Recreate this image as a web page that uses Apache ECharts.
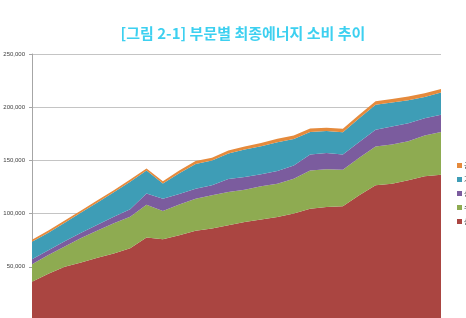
<!DOCTYPE html>
<html>
<head>
<meta charset="utf-8">
<script src="https://cdn.jsdelivr.net/npm/echarts@6/dist/echarts.min.js"></script>
<style>
  html, body { margin: 0; padding: 0; background: #fff; }
  #chart { width: 466px; height: 318px; }
</style>
</head>
<body>
<div id="chart"></div>
<script>
// 1990 ~ 2015, 천toe
const years = ['1990', '1991', '1992', '1993', '1994', '1995', '1996', '1997', '1998', '1999',
  '2000', '2001', '2002', '2003', '2004', '2005', '2006', '2007', '2008', '2009',
  '2010', '2011', '2012', '2013', '2014', '2015'];

const industry = [36000, 43500, 50000, 54000, 58500, 62500, 67500, 77500, 76000, 79700,
  83800, 85900, 89000, 92200, 94400, 96900, 100000, 104500, 106300, 106900,
  117200, 126600, 128100, 131300, 135000, 136600];
const transport = [16500, 17500, 19000, 23000, 25500, 28500, 29500, 30900, 26500, 28800,
  30200, 31300, 31300, 30300, 31200, 31200, 32800, 36100, 35300, 34300,
  35300, 36500, 36900, 36800, 38400, 40000];
const commercial = [4500, 4500, 5000, 5000, 5500, 6000, 7000, 10600, 11500, 10000,
  9400, 9400, 12200, 11900, 11300, 11900, 12500, 14900, 15300, 14400,
  14700, 15700, 16900, 16900, 16300, 16200];
const residential = [16500, 16500, 17500, 19000, 21000, 23000, 26000, 21500, 14300, 19500,
  23300, 23200, 24000, 25800, 26400, 27000, 24900, 21300, 20700, 20900,
  22300, 23400, 22500, 21600, 19900, 20900];
const publicEtc = [2000, 2000, 2000, 2000, 2000, 2000, 2000, 2000, 2200, 2600,
  2700, 2700, 2900, 2900, 3000, 3300, 3200, 3200, 3200, 3300,
  3300, 3400, 3400, 3400, 3500, 3500];

const yTicks = [0, 50000, 100000, 150000, 200000, 250000];

const layers = [
  { name: '산업', data: industry, color: '#AA4541' },
  { name: '수송', data: transport, color: '#8EAB51' },
  { name: '상업', data: commercial, color: '#7B5C9E' },
  { name: '가정', data: residential, color: '#3E9DB6' },
  { name: '공공', data: publicEtc, color: '#E58A3C' }
];

const chart = echarts.init(document.getElementById('chart'), null, { renderer: 'canvas' });

chart.setOption({
  animation: false,
  title: {
    text: '[그림 2-1] 부문별 최종에너지 소비 추이',
    left: 238,
    textAlign: 'center',
    top: 21,
    textStyle: {
      fontFamily: 'Noto Sans CJK KR',
      fontSize: 15,
      fontWeight: 'bold',
      color: '#3DD0F0'
    }
  },
  legend: {
    orient: 'vertical',
    left: 457,
    top: 162,
    padding: 0,
    itemWidth: 5,
    itemHeight: 5,
    itemGap: 7,
    icon: 'rect',
    data: layers.map(l => l.name).reverse(),
    textStyle: { fontSize: 7, color: '#404040', fontFamily: 'Noto Sans CJK KR', padding: [0, 0, 0, -3] }
  },
  grid: { left: 32, right: 25, top: 54, bottom: -2, outerBoundsMode: 'none', containLabel: false },
  xAxis: {
    type: 'category',
    data: years,
    boundaryGap: false,
    axisLabel: { show: false },
    axisTick: { show: false },
    axisLine: { lineStyle: { color: '#A6A6A6' } }
  },
  yAxis: {
    type: 'value',
    min: yTicks[0],
    max: yTicks[yTicks.length - 1],
    interval: 50000,
    axisLine: { show: true, lineStyle: { color: '#A6A6A6' } },
    axisTick: { show: true, length: 3, lineStyle: { color: '#A6A6A6' } },
    axisLabel: {
      margin: 7,
      fontSize: 6,
      color: '#404040',
      fontFamily: 'Liberation Sans',
      formatter: v => v === 0 ? '' : v.toLocaleString('en-US')
    },
    splitLine: { lineStyle: { color: '#C4C4C4', width: 1 } }
  },
  series: layers.map(l => ({
    name: l.name,
    type: 'line',
    stack: 'total',
    data: l.data,
    showSymbol: false,
    symbol: 'none',
    color: l.color,
    lineStyle: { width: 0 },
    areaStyle: { color: l.color, opacity: 1 }
  }))
});
</script>
</body>
</html>
